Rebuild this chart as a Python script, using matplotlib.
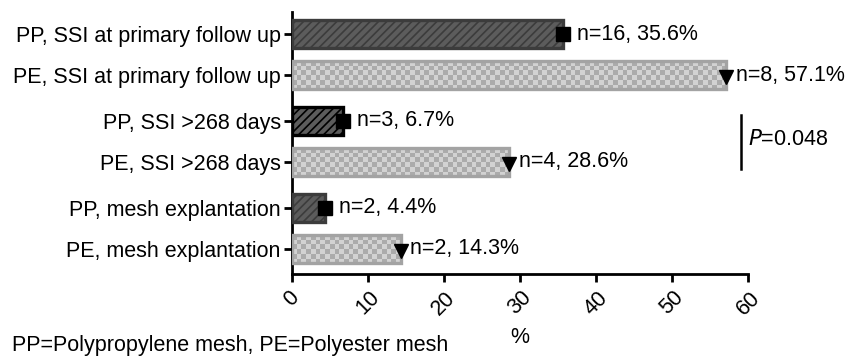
import numpy as np
import matplotlib
matplotlib.use("Agg")
import matplotlib.pyplot as plt
from matplotlib.colors import ListedColormap

plt.rcParams['font.family'] = ['Liberation Sans', 'DejaVu Sans']
plt.rcParams['hatch.color'] = '#3c3c3c'
plt.rcParams['hatch.linewidth'] = 1.2

categories = ["PP, SSI at primary follow up", "PE, SSI at primary follow up",
              "PP, SSI >268 days", "PE, SSI >268 days",
              "PP, mesh explantation", "PE, mesh explantation"]
values = [35.6, 57.1, 6.7, 28.6, 4.4, 14.3]
counts = [16, 8, 3, 4, 2, 2]
groups = ["PP", "PE", "PP", "PE", "PP", "PE"]
xticks = [0, 10, 20, 30, 40, 50, 60]
p_text = "0.048"
footnote = "PP=Polypropylene mesh, PE=Polyester mesh"

FS = 15.5

fig = plt.figure(figsize=(8.61, 3.6), dpi=100)
ax = fig.add_axes([0.339, 0.239, 0.530, 0.728])

gap = 0.12
pos = [i + gap * (i // 2) for i in range(len(values))]
h = 0.68

checker_cmap = ListedColormap(["#ababab", "#d2d2d2"])
cell_x = 0.62
cell_y = 0.115

for i, (p, v, g) in enumerate(zip(pos, values, groups)):
    if g == "PP":
        edge = "#000000" if i == 2 else "#3c3c3c"
        ax.barh(p, v, height=h, color="#5c5c5c", edgecolor=edge, linewidth=2.4,
                hatch="////", zorder=3)
        ax.plot(v, p, marker="s", color="black", markersize=9.5, zorder=5, clip_on=False)
        ax.annotate(f"n={counts[i]}, {v}%", (v, p), xytext=(10, 0),
                    textcoords="offset points", va="center", ha="left", fontsize=FS)
    else:
        bars = ax.barh(p, v, height=h, facecolor="none", edgecolor="#a3a3a3",
                       linewidth=2.4, zorder=4)
        nx = int(np.ceil(v / cell_x)) + 1
        ny = int(np.ceil(h / cell_y)) + 1
        arr = (np.add.outer(np.arange(ny), np.arange(nx)) % 2)
        im = ax.imshow(arr, cmap=checker_cmap, interpolation="nearest", aspect="auto",
                       extent=[0, nx * cell_x, p - h / 2 + ny * cell_y, p - h / 2],
                       zorder=2)
        im.set_clip_path(bars[0])
        ax.plot(v, p + 0.05, marker="v", color="black", markersize=9.5, zorder=5, clip_on=False)
        ax.annotate(f"n={counts[i]}, {v}%", (v, p), xytext=(7, 0),
                    textcoords="offset points", va="center", ha="left", fontsize=FS)

ax.set_xlim(0, 60)
ax.set_ylim(pos[-1] + 0.61, pos[0] - 0.54)
ax.set_yticks(pos)
ax.set_yticklabels(categories, fontsize=FS)
ax.set_xticks(xticks)
ax.set_xticklabels([str(t) for t in xticks], rotation=45, fontsize=FS)
ax.set_xlabel("%", fontsize=FS, labelpad=6)

for s in ["top", "right"]:
    ax.spines[s].set_visible(False)
for s in ["left", "bottom"]:
    ax.spines[s].set_linewidth(2)
ax.tick_params(axis="both", width=2, length=6, direction="out")
ax.tick_params(axis="y", pad=2)

# significance bracket between rows 3 and 4
mid = (pos[2] + pos[3]) / 2
ax.plot([59, 59], [mid - 0.64, mid + 0.66], color="black", lw=1.8, clip_on=False)
ax.text(60.0, mid - 0.05, "$\\it{P}$=" + p_text, fontsize=FS, va="center", ha="left")

fig.text(0.014, 0.012, footnote, fontsize=FS, ha="left", va="bottom")

fig.savefig("out.png", dpi=100)
